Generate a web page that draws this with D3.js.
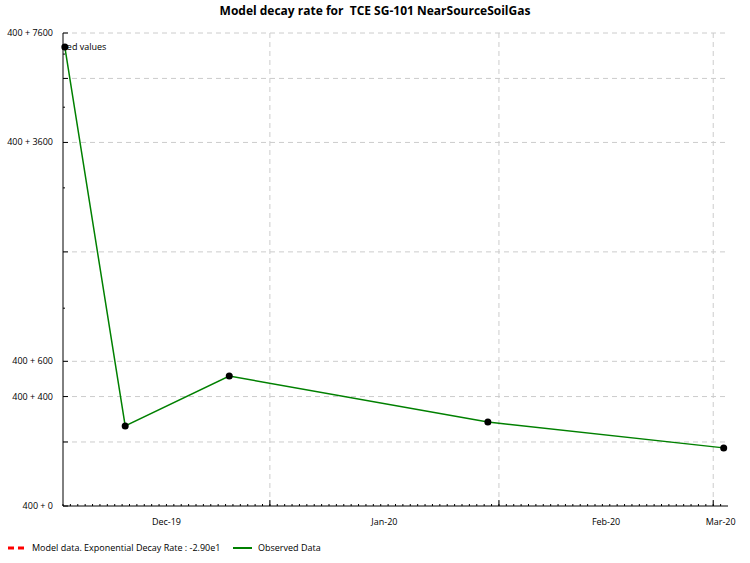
<!DOCTYPE html>
<html><head><meta charset="utf-8">
<script src="https://cdn.jsdelivr.net/npm/d3@7"></script>
<style>body{margin:0;background:#fff;font-family:"Open Sans",Lato,sans-serif}</style>
</head><body><svg width="750" height="563"></svg>
<script>
// observed concentrations (offset 400 is added for the log axis)
var dates = ["2019-12-04T06:00", "2019-12-12T10:00", "2019-12-26T12:00", "2020-01-30T12:00", "2020-03-02T10:00"];
var values = [6916, 264, 511, 281, 178];
var offset = 400;
var yLabelTicks = [0, 400, 600, 3600, 7600];
var yGridTicks = [200, 400, 600, 1600, 3600, 5600, 7600];
var monthTicks = ["2020-01-01", "2020-02-01", "2020-03-01"];
var monthLabels = [["Dec-19", "2019-12-04", "2020-01-01"], ["Jan-20", "2020-01-01", "2020-02-01"], ["Feb-20", "2020-02-01", "2020-03-01"], ["Mar-20", "2020-03-01", "2020-03-03"]];

var parse = d3.isoParse;
var pLeft = 63, pRight = 728, pTop = 33, pBottom = 506;
var svg = d3.select('svg');

var x = d3.scaleTime()
  .domain([parse("2019-12-04"), parse("2020-03-03")])
  .range([pLeft, pRight]);
var y = d3.scaleLog()
  .domain([offset, offset + 7600])
  .range([pBottom, pTop]);

svg.append("text").attr("x", 375).attr("y", 15).attr("text-anchor", "middle")
  .style("font-weight", "bold").style("font-size", "12px").style("white-space", "pre")
  .text("Model decay rate for  TCE SG-101 NearSourceSoilGas");

// grid
svg.selectAll(".hg").data(yGridTicks).enter().append("line")
  .attr("x1", pLeft).attr("x2", pRight)
  .attr("y1", d => y(d + offset)).attr("y2", d => y(d + offset))
  .attr("stroke", "#ccc").attr("stroke-dasharray", "5,4");
svg.selectAll(".vg").data(monthTicks).enter().append("line")
  .attr("x1", d => x(parse(d))).attr("x2", d => x(parse(d)))
  .attr("y1", pTop).attr("y2", pBottom)
  .attr("stroke", "#ccc").attr("stroke-dasharray", "5,4");

// x axis with daily minor ticks
svg.append("line").attr("x1", pLeft).attr("x2", pRight).attr("y1", pBottom).attr("y2", pBottom).attr("stroke", "#000");
svg.selectAll(".dt").data(d3.timeDay.range(x.domain()[0], x.domain()[1])).enter().append("line")
  .attr("x1", d => x(d)).attr("x2", d => x(d)).attr("y1", pBottom).attr("y2", pBottom - 2).attr("stroke", "#000");
svg.selectAll(".mt").data(monthTicks).enter().append("line")
  .attr("x1", d => x(parse(d))).attr("x2", d => x(parse(d))).attr("y1", pBottom).attr("y2", pBottom - 6).attr("stroke", "#000");
svg.selectAll(".ml").data(monthLabels).enter().append("text")
  .attr("x", d => (x(parse(d[1])) + x(parse(d[2]))) / 2).attr("y", 525)
  .attr("text-anchor", "middle").style("font-size", "9px").text(d => d[0]);

// y axis
svg.append("line").attr("x1", pLeft).attr("x2", pLeft).attr("y1", pTop).attr("y2", pBottom).attr("stroke", "#000");
svg.selectAll(".yt").data(yGridTicks.concat([0])).enter().append("line")
  .attr("x1", pLeft).attr("x2", pLeft + 5).attr("y1", d => y(d + offset)).attr("y2", d => y(d + offset)).attr("stroke", "#000");
svg.selectAll(".ytm").data([1000, 2600, 4600, 6600]).enter().append("line")
  .attr("x1", pLeft).attr("x2", pLeft + 2).attr("y1", d => y(d + offset)).attr("y2", d => y(d + offset)).attr("stroke", "#000");
svg.selectAll(".yl").data(yLabelTicks).enter().append("text")
  .attr("x", 53).attr("y", d => y(d + offset) + 3).attr("text-anchor", "end")
  .style("font-size", "9px").text(d => offset + " + " + d);

// observed series
var line = d3.line().x(d => x(parse(d[0]))).y(d => y(d[1] + offset));
var pts = dates.map((d, i) => [d, values[i]]);
svg.append("path").datum(pts).attr("d", line).attr("fill", "none").attr("stroke", "#008000").attr("stroke-width", 1.5);
svg.selectAll(".pt").data(pts).enter().append("circle")
  .attr("cx", d => x(parse(d[0]))).attr("cy", d => y(d[1] + offset)).attr("r", 3.5).attr("fill", "#000");

svg.append("clipPath").attr("id", "c").append("rect").attr("x", pLeft).attr("y", pTop).attr("width", pRight - pLeft).attr("height", pBottom - pTop);
svg.append("text").attr("clip-path", "url(#c)").attr("x", x(parse(dates[0])) - 28).attr("y", y(values[0] + offset) + 3)
  .style("font-size", "9px").text("Observed values");

// legend
svg.append("line").attr("x1", 8).attr("x2", 24).attr("y1", 548).attr("y2", 548)
  .attr("stroke", "red").attr("stroke-width", 3).attr("stroke-dasharray", "6,4");
svg.append("text").attr("x", 32).attr("y", 551).style("font-size", "9px").text("Model data. Exponential Decay Rate : -2.90e1");
svg.append("line").attr("x1", 233).attr("x2", 252).attr("y1", 548).attr("y2", 548).attr("stroke", "#008000").attr("stroke-width", 2);
svg.append("text").attr("x", 258).attr("y", 551).style("font-size", "9px").text("Observed Data");
</script></body></html>
